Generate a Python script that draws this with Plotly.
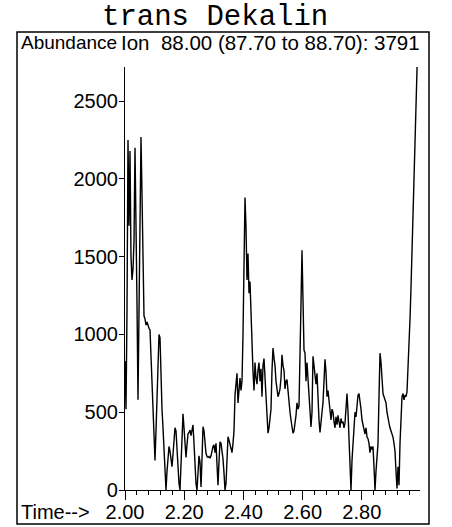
import numpy as np
import plotly.graph_objects as go

# Extracted ion chromatogram, m/z 88.00 (87.70 to 88.70)
title_text = "trans Dekalin"
ion_label = "Ion\u00a0\u00a088.00 (87.70 to 88.70): 3791"
scan_start_min = 2.0
scan_interval_min = 1 / 296

abundance = [
    830, 520, 1150, 2250, 1700, 2180, 1500, 1350, 1420, 1600,
    2200, 1800, 1200, 580, 1100, 1700, 2270, 1900, 1400, 1120,
    1100, 1060, 1080, 1050, 1040, 1030, 880, 720, 580, 370,
    190, 380, 640, 900, 1000, 980, 720, 520, 400, 250,
    90, 0, 120, 240, 280, 250, 200, 150, 230, 330,
    400, 380, 250, 120, 40, 0, 150, 350, 490, 400,
    280, 210, 290, 360, 370, 385, 350, 400, 418, 300,
    150, 40, 0, 110, 220, 180, 20, 200, 407, 380,
    300, 236, 215, 210, 215, 205, 220, 260, 280, 290,
    240, 300, 150, 30, 180, 310, 300, 250, 200, 110,
    0, 40, 250, 343, 320, 290, 260, 240, 300, 380,
    610, 700, 750, 560, 680, 720, 640, 700, 1000, 1400,
    1880, 1690, 1350, 1520, 1265, 1340, 1100, 940, 760, 640,
    820, 720, 680, 770, 820, 700, 780, 600, 800, 845,
    700, 560, 450, 365, 400, 450, 520, 770, 913, 850,
    800, 700, 640, 600, 620, 650, 720, 870, 800, 770,
    650, 700, 710, 620, 560, 500, 450, 400, 365, 380,
    420, 480, 560, 520, 540, 800, 1200, 1542, 1250, 900,
    880, 700, 820, 700, 580, 480, 405, 500, 860, 800,
    720, 680, 750, 580, 450, 370, 420, 500, 560, 700,
    840, 760, 600, 640, 560, 500, 450, 520, 500, 440,
    400, 470, 420, 480, 440, 400, 460, 430, 440, 400,
    430, 560, 620, 500, 300, 120, 0, 190, 300, 450,
    500, 470, 560, 610, 620, 580, 520, 450, 420, 380,
    360, 400, 340, 330, 300, 240, 280, 260, 280, 150,
    0, 120, 240, 300, 600, 880, 820, 700, 620, 600,
    580, 560, 500, 450, 430, 400, 380, 360, 340, 300,
    250, 120, 10, 150, 30, 300, 450, 600, 620, 580,
    610, 600, 630, 770, 1000, 1100, 1300, 1550, 1800, 2000,
    2300, 2500, 2700, 3791,
]

y_ticks = [0, 500, 1000, 1500, 2000, 2500]
x_ticks = [2.00, 2.20, 2.40, 2.60, 2.80]
x_tick_labels = ["2.00", "2.20", "2.40", "2.60", "2.80"]

times = scan_start_min + scan_interval_min * np.arange(len(abundance))

W, H = 452, 527
L, R, T, B = 125, 32, 67, 37
plot_w = W - L - R
plot_h = H - T - B
x_end = 2.0 + plot_w / 296


def px(x):
    return (x - L) / plot_w


def py(y):
    return (H - B - y) / plot_h


fig = go.Figure()
fig.add_trace(go.Scatter(
    x=times, y=abundance, mode="lines",
    line=dict(color="black", width=1.4),
    hoverinfo="skip", showlegend=False,
))

label_font = dict(family="Liberation Sans, Arial, sans-serif", size=20, color="black")

fig.update_layout(
    width=W, height=H,
    margin=dict(l=L, r=R, t=T, b=B, pad=0, autoexpand=False),
    paper_bgcolor="white", plot_bgcolor="white",
    showlegend=False,
    xaxis=dict(
        range=[2.0, x_end], tickmode="array", tickvals=x_ticks, ticktext=x_tick_labels,
        automargin=False,
        showgrid=False, zeroline=False, showline=True, linecolor="black", linewidth=1.2,
        ticks="outside", ticklen=9, tickwidth=1.2, tickcolor="black",
        ticklabelstandoff=-5,
        tickfont=label_font,
        minor=dict(tickmode="linear", tick0=2.0, dtick=0.04, ticks="outside", ticklen=4,
                   tickwidth=1.2, tickcolor="black", showgrid=False),
    ),
    yaxis=dict(
        range=[0, 2720], tickmode="array", tickvals=y_ticks,
        automargin=False,
        showgrid=False, zeroline=False, showline=True, linecolor="black", linewidth=1.2,
        ticks="outside", ticklen=5, tickwidth=1.2, tickcolor="black",
        ticklabelstandoff=-3,
        tickfont=label_font,
    ),
)

# outer frame around the chart
fig.add_shape(type="rect", xref="paper", yref="paper",
              x0=px(17), x1=px(429), y0=py(524), y1=py(32),
              line=dict(color="black", width=1.5), fillcolor="rgba(0,0,0,0)")

fig.add_annotation(text=title_text, xref="paper", yref="paper",
                   x=px(215), y=py(0), xanchor="center", yanchor="top",
                   showarrow=False, borderpad=0,
                   font=dict(family="Liberation Mono, Courier New, monospace", size=29, color="black"))
fig.add_annotation(text="Abundance", xref="paper", yref="paper",
                   x=px(19), y=py(43), xanchor="left", yanchor="middle",
                   showarrow=False, font=dict(label_font, size=19))
fig.add_annotation(text=ion_label, xref="paper", yref="paper",
                   x=px(119), y=py(43), xanchor="left", yanchor="middle",
                   showarrow=False, font=dict(label_font, size=20.5))
fig.add_annotation(text="Time-->", xref="paper", yref="paper",
                   x=px(19), y=py(512), xanchor="left", yanchor="middle",
                   showarrow=False, font=label_font)

fig.write_html("out.html")
